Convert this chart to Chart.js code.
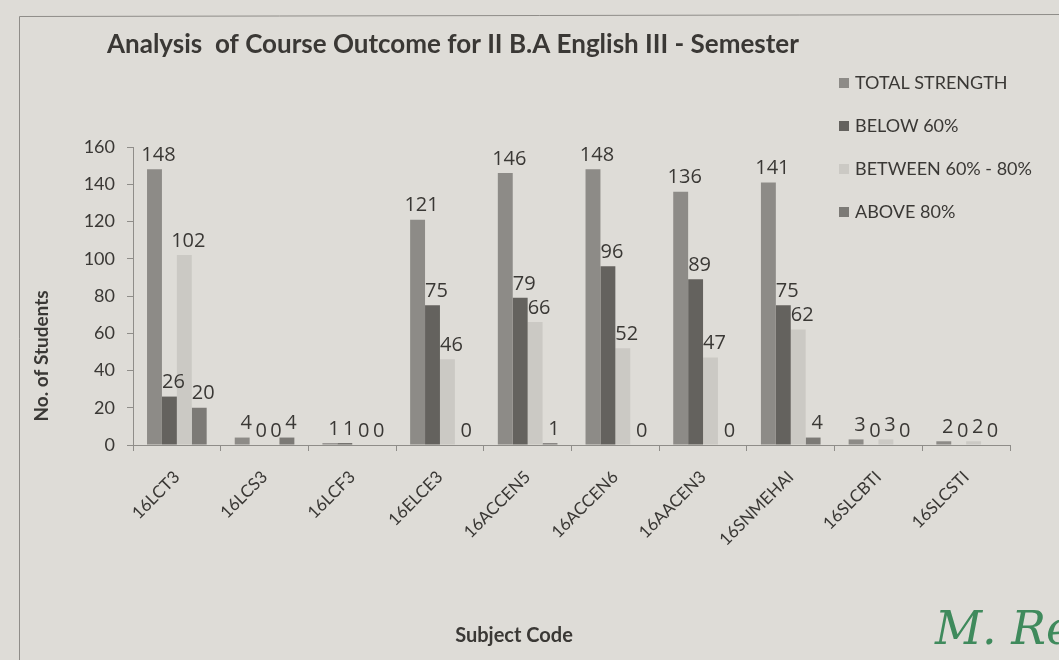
<!DOCTYPE html>
<html>
<head>
<meta charset="utf-8">
<script src="https://cdn.jsdelivr.net/npm/chart.js@4/dist/chart.umd.min.js"></script>
<style>
    html, body { margin: 0; padding: 0; background: #dedcd7; }
    #wrap { position: relative; width: 1059px; height: 660px; }
</style>
</head>
<body>
<div id="wrap"><canvas id="coChart" width="1059" height="660"></canvas></div>
<script>
// chart values read from the printed sheet
const subjects = ['16LCT3', '16LCS3', '16LCF3', '16ELCE3', '16ACCEN5', '16ACCEN6', '16AACEN3', '16SNMEHAI', '16SLCBTI', '16SLCSTI'];
const totalStrength = [148, 4, 1, 121, 146, 148, 136, 141, 3, 2];
const below60 = [26, 0, 1, 75, 79, 96, 89, 75, 0, 0];
const between60to80 = [102, 0, 0, 46, 66, 52, 47, 62, 3, 2];
const above80 = [20, 4, 0, 0, 1, 0, 0, 4, 0, 0];
const yTicks = [0, 20, 40, 60, 80, 100, 120, 140, 160];

const ink = '#3a3835';
const seriesColors = ['#8d8b87', '#64625e', '#cbc9c4', '#7c7a76'];

// page background, frame, titles, legend, signature
const sheetDecor = {
    id: 'sheetDecor',
    beforeDraw(chart) {
        const c = chart.ctx;
        c.save();
        c.fillStyle = '#dedcd7';
        c.fillRect(0, 0, chart.width, chart.height);
        c.strokeStyle = '#8f8d89';
        c.lineWidth = 1;
        c.beginPath();
        c.moveTo(19.5, 660);
        c.lineTo(19.5, 16.5);
        c.lineTo(1059, 14.5);
        c.stroke();
        c.restore();
    },
    afterDraw(chart) {
        const c = chart.ctx;
        c.save();
        c.fillStyle = ink;
        c.textBaseline = 'middle';

        // chart title
        c.font = 'bold 26px Lato';
        c.textAlign = 'left';
        c.fillText('Analysis  of Course Outcome for II B.A English III - Semester', 107, 45);

        // axis titles
        c.font = 'bold 20px Lato';
        c.textAlign = 'center';
        c.fillText('Subject Code', 514, 636);
        c.save();
        c.translate(42, 356);
        c.rotate(-Math.PI / 2);
        c.font = 'bold 19px Lato';
        c.fillText('No. of Students', 0, 0);
        c.restore();

        // legend
        c.font = '18px Lato';
        c.textAlign = 'left';
        chart.data.datasets.forEach((ds, i) => {
            const y = 83 + i * 43;
            c.fillStyle = ds.backgroundColor;
            c.fillRect(839, y - 5, 10, 10);
            c.fillStyle = ink;
            c.fillText(ds.label, 855, y);
        });

        // handwritten initials
        c.fillStyle = '#3f8a5c';
        c.font = 'italic 46px "DejaVu Serif"';
        c.fillText('M. Re', 935, 632);
        c.restore();
    }
};

// value printed above every bar
const barValues = {
    id: 'barValues',
    afterDatasetsDraw(chart) {
        const c = chart.ctx;
        c.save();
        c.font = '20px "Open Sans"';
        c.fillStyle = ink;
        c.textAlign = 'center';
        c.textBaseline = 'bottom';
        chart.data.datasets.forEach((ds, i) => {
            chart.getDatasetMeta(i).data.forEach((bar, j) => {
                c.fillText(ds.data[j], bar.x + 4, bar.y - 4);
            });
        });
        c.restore();
    }
};

new Chart(document.getElementById('coChart'), {
    type: 'bar',
    data: {
        labels: subjects,
        datasets: [
            { label: 'TOTAL STRENGTH', data: totalStrength, backgroundColor: seriesColors[0] },
            { label: 'BELOW 60%', data: below60, backgroundColor: seriesColors[1] },
            { label: 'BETWEEN 60% - 80%', data: between60to80, backgroundColor: seriesColors[2] },
            { label: 'ABOVE 80%', data: above80, backgroundColor: seriesColors[3] }
        ]
    },
    options: {
        responsive: false,
        animation: false,
        layout: { padding: { top: 147, right: 49, left: 0, bottom: 0 } },
        datasets: { bar: { categoryPercentage: 0.68, barPercentage: 1.0 } },
        scales: {
            x: {
                grid: { display: true, drawOnChartArea: false, offset: true, color: '#8f8d89', tickLength: 6 },
                border: { color: '#8f8d89' },
                ticks: {
                    color: ink, font: { family: 'Lato', size: 17 },
                    maxRotation: 45, minRotation: 45, autoSkip: false, padding: 16
                },
                afterFit: (s) => { s.height = 215; }
            },
            y: {
                min: 0, max: 160,
                afterBuildTicks: (s) => { s.ticks = yTicks.map(v => ({ value: v })); },
                grid: { display: true, drawOnChartArea: false, color: '#8f8d89', tickLength: 6 },
                border: { color: '#8f8d89' },
                ticks: { color: ink, font: { family: 'Lato', size: 18 }, padding: 12 },
                afterFit: (s) => { s.width = 133; }
            }
        },
        plugins: {
            legend: { display: false },
            title: { display: false },
            tooltip: { enabled: false }
        }
    },
    plugins: [sheetDecor, barValues]
});
</script>
</body>
</html>
